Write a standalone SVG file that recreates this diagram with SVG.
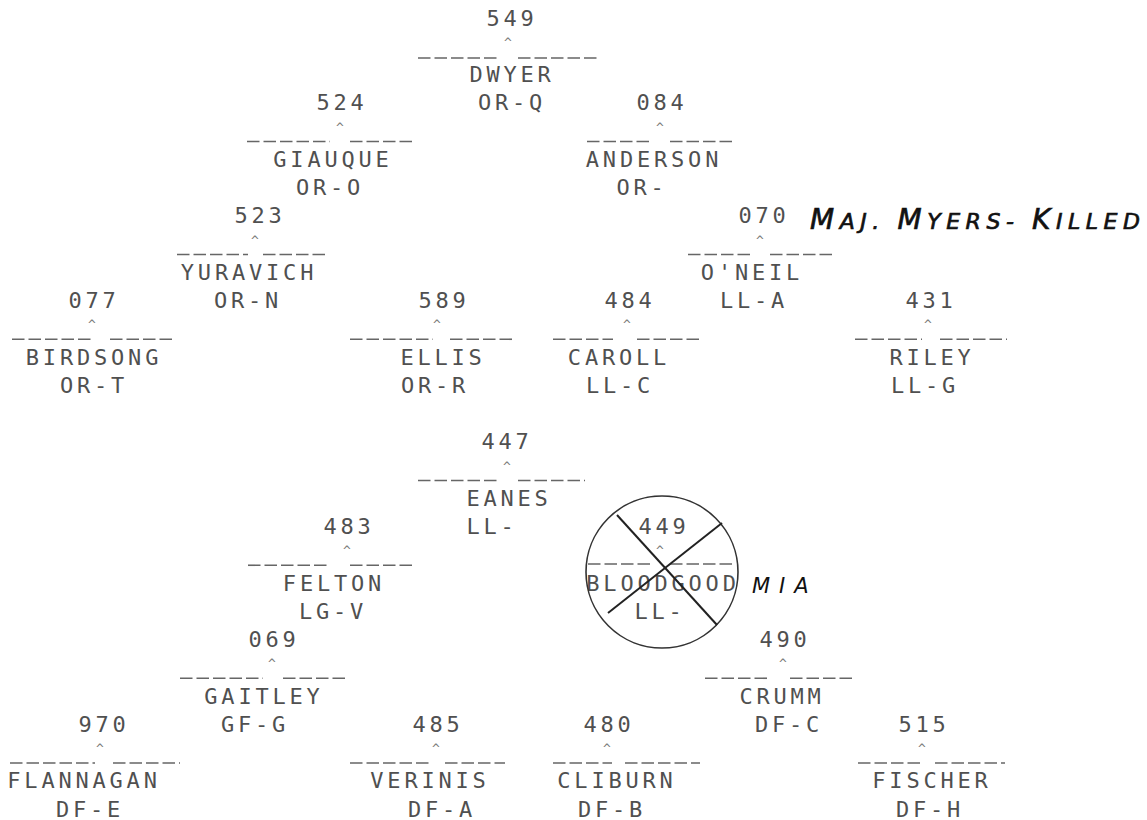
<svg xmlns="http://www.w3.org/2000/svg" width="1147" height="820" viewBox="0 0 1147 820">
<style>
.t{font-family:"DejaVu Sans Mono","Liberation Mono",monospace;font-size:22px;fill:#505050;letter-spacing:3.8px;text-anchor:middle}
.c{font-family:"DejaVu Sans Mono","Liberation Mono",monospace;font-size:13px;fill:#777;text-anchor:middle}
.u{stroke:#666;stroke-width:1.6;stroke-dasharray:12.5 4;fill:none}
.hw{font-family:"DejaVu Sans","Liberation Sans",sans-serif;font-style:italic;fill:#111}
</style>
<rect width="1147" height="820" fill="#fff"/>
<g id="n549"><text class="t" x="512" y="25.5">549</text><text class="c" x="508" y="46.75">^</text><line class="u" x1="418" y1="58" x2="498" y2="58"/><line class="u" x1="518" y1="58" x2="600" y2="58"/><text class="t" x="512" y="82">DWYER</text><text class="t" x="512" y="110.25">OR-Q</text></g>
<g id="n524"><text class="t" x="342" y="110.25">524</text><text class="c" x="340" y="131.5">^</text><line class="u" x1="247" y1="141.5" x2="330" y2="141.5"/><line class="u" x1="350" y1="141.5" x2="415" y2="141.5"/><text class="t" x="333" y="166.75">GIAUQUE</text><text class="t" x="330" y="195">OR-O</text></g>
<g id="n084"><text class="t" x="662" y="110.25">084</text><text class="c" x="660" y="131.5">^</text><line class="u" x1="587" y1="141.5" x2="650" y2="141.5"/><line class="u" x1="670" y1="141.5" x2="735" y2="141.5"/><text class="t" x="654" y="166.75">ANDERSON</text><text class="t" x="642" y="195">OR-</text></g>
<g id="n523"><text class="t" x="260" y="223.25">523</text><text class="c" x="255" y="244.5">^</text><line class="u" x1="177" y1="254.5" x2="248" y2="254.5"/><line class="u" x1="263" y1="254.5" x2="327" y2="254.5"/><text class="t" x="249" y="279.75">YURAVICH</text><text class="t" x="248" y="308">OR-N</text></g>
<g id="n070"><text class="t" x="764" y="223.25">070</text><text class="c" x="760" y="244.5">^</text><line class="u" x1="688" y1="254.5" x2="752" y2="254.5"/><line class="u" x1="770" y1="254.5" x2="835" y2="254.5"/><text class="t" x="752" y="279.75">O'NEIL</text><text class="t" x="754" y="308">LL-A</text></g>
<g id="note-killed"><text class="hw" x="810" y="229" stroke="#111" stroke-width="0.7" textLength="330" lengthAdjust="spacing"><tspan font-size="28">M</tspan><tspan font-size="22">AJ. </tspan><tspan font-size="28">M</tspan><tspan font-size="22">YERS- </tspan><tspan font-size="28">K</tspan><tspan font-size="22">ILLED</tspan></text></g>
<g id="n077"><text class="t" x="94" y="308">077</text><text class="c" x="92" y="329.25">^</text><line class="u" x1="12" y1="339.25" x2="92" y2="339.25"/><line class="u" x1="110" y1="339.25" x2="175" y2="339.25"/><text class="t" x="94" y="364.5">BIRDSONG</text><text class="t" x="94" y="392.75">OR-T</text></g>
<g id="n589"><text class="t" x="444" y="308">589</text><text class="c" x="437" y="329.25">^</text><line class="u" x1="350" y1="339.25" x2="433" y2="339.25"/><line class="u" x1="450" y1="339.25" x2="515" y2="339.25"/><text class="t" x="443" y="364.5">ELLIS</text><text class="t" x="435" y="392.75">OR-R</text></g>
<g id="n484"><text class="t" x="630" y="308">484</text><text class="c" x="627" y="329.25">^</text><line class="u" x1="553" y1="339.25" x2="613" y2="339.25"/><line class="u" x1="637" y1="339.25" x2="702" y2="339.25"/><text class="t" x="619" y="364.5">CAROLL</text><text class="t" x="620" y="392.75">LL-C</text></g>
<g id="n431"><text class="t" x="931" y="308">431</text><text class="c" x="928" y="329.25">^</text><line class="u" x1="855" y1="339.25" x2="922" y2="339.25"/><line class="u" x1="940" y1="339.25" x2="1007" y2="339.25"/><text class="t" x="932" y="364.5">RILEY</text><text class="t" x="925" y="392.75">LL-G</text></g>
<g id="n447"><text class="t" x="507" y="449.25">447</text><text class="c" x="507" y="470.5">^</text><line class="u" x1="418" y1="480.5" x2="498" y2="480.5"/><line class="u" x1="518" y1="480.5" x2="585" y2="480.5"/><text class="t" x="509" y="505.75">EANES</text><text class="t" x="492" y="534">LL-</text></g>
<g id="n483"><text class="t" x="349" y="534">483</text><text class="c" x="347" y="555.25">^</text><line class="u" x1="248" y1="565.25" x2="328" y2="565.25"/><line class="u" x1="350" y1="565.25" x2="412" y2="565.25"/><text class="t" x="334" y="590.5">FELTON</text><text class="t" x="333" y="618.75">LG-V</text></g>
<g id="n449"><text class="t" x="664" y="534">449</text><text class="c" x="660" y="555.25">^</text><line class="u" x1="588" y1="564" x2="650" y2="564"/><line class="u" x1="670" y1="564" x2="735" y2="564"/><text class="t" x="663" y="590.5">BLOODGOOD</text><text class="t" x="660" y="618.75">LL-</text><circle cx="662" cy="572" r="76" fill="none" stroke="#333" stroke-width="1.6"/><line x1="617" y1="515" x2="717" y2="625" stroke="#222" stroke-width="2"/><line x1="722" y1="523" x2="608" y2="613" stroke="#222" stroke-width="2"/></g>
<g id="note-mia"><text class="hw" x="752" y="593" font-size="21" fill="#555" letter-spacing="9">MIA</text></g>
<g id="n069"><text class="t" x="274" y="647">069</text><text class="c" x="272" y="668.25">^</text><line class="u" x1="180" y1="678.25" x2="263" y2="678.25"/><line class="u" x1="283" y1="678.25" x2="347" y2="678.25"/><text class="t" x="264" y="703.5">GAITLEY</text><text class="t" x="255" y="731.75">GF-G</text></g>
<g id="n490"><text class="t" x="785" y="647">490</text><text class="c" x="783" y="668.25">^</text><line class="u" x1="705" y1="678.25" x2="770" y2="678.25"/><line class="u" x1="790" y1="678.25" x2="855" y2="678.25"/><text class="t" x="782" y="703.5">CRUMM</text><text class="t" x="789" y="731.75">DF-C</text></g>
<g id="n970"><text class="t" x="104" y="731.75">970</text><text class="c" x="100" y="753">^</text><line class="u" x1="10" y1="763" x2="95" y2="763"/><line class="u" x1="113" y1="763" x2="180" y2="763"/><text class="t" x="84" y="788.25">FLANNAGAN</text><text class="t" x="90" y="816.5">DF-E</text></g>
<g id="n485"><text class="t" x="438" y="731.75">485</text><text class="c" x="436" y="753">^</text><line class="u" x1="350" y1="763" x2="430" y2="763"/><line class="u" x1="445" y1="763" x2="505" y2="763"/><text class="t" x="430" y="788.25">VERINIS</text><text class="t" x="442" y="816.5">DF-A</text></g>
<g id="n480"><text class="t" x="609" y="731.75">480</text><text class="c" x="607" y="753">^</text><line class="u" x1="553" y1="763" x2="612" y2="763"/><line class="u" x1="625" y1="763" x2="700" y2="763"/><text class="t" x="617" y="788.25">CLIBURN</text><text class="t" x="612" y="816.5">DF-B</text></g>
<g id="n515"><text class="t" x="924" y="731.75">515</text><text class="c" x="922" y="753">^</text><line class="u" x1="858" y1="763" x2="920" y2="763"/><line class="u" x1="935" y1="763" x2="1005" y2="763"/><text class="t" x="932" y="788.25">FISCHER</text><text class="t" x="930" y="816.5">DF-H</text></g>
<g id="connectors"/>
</svg>
